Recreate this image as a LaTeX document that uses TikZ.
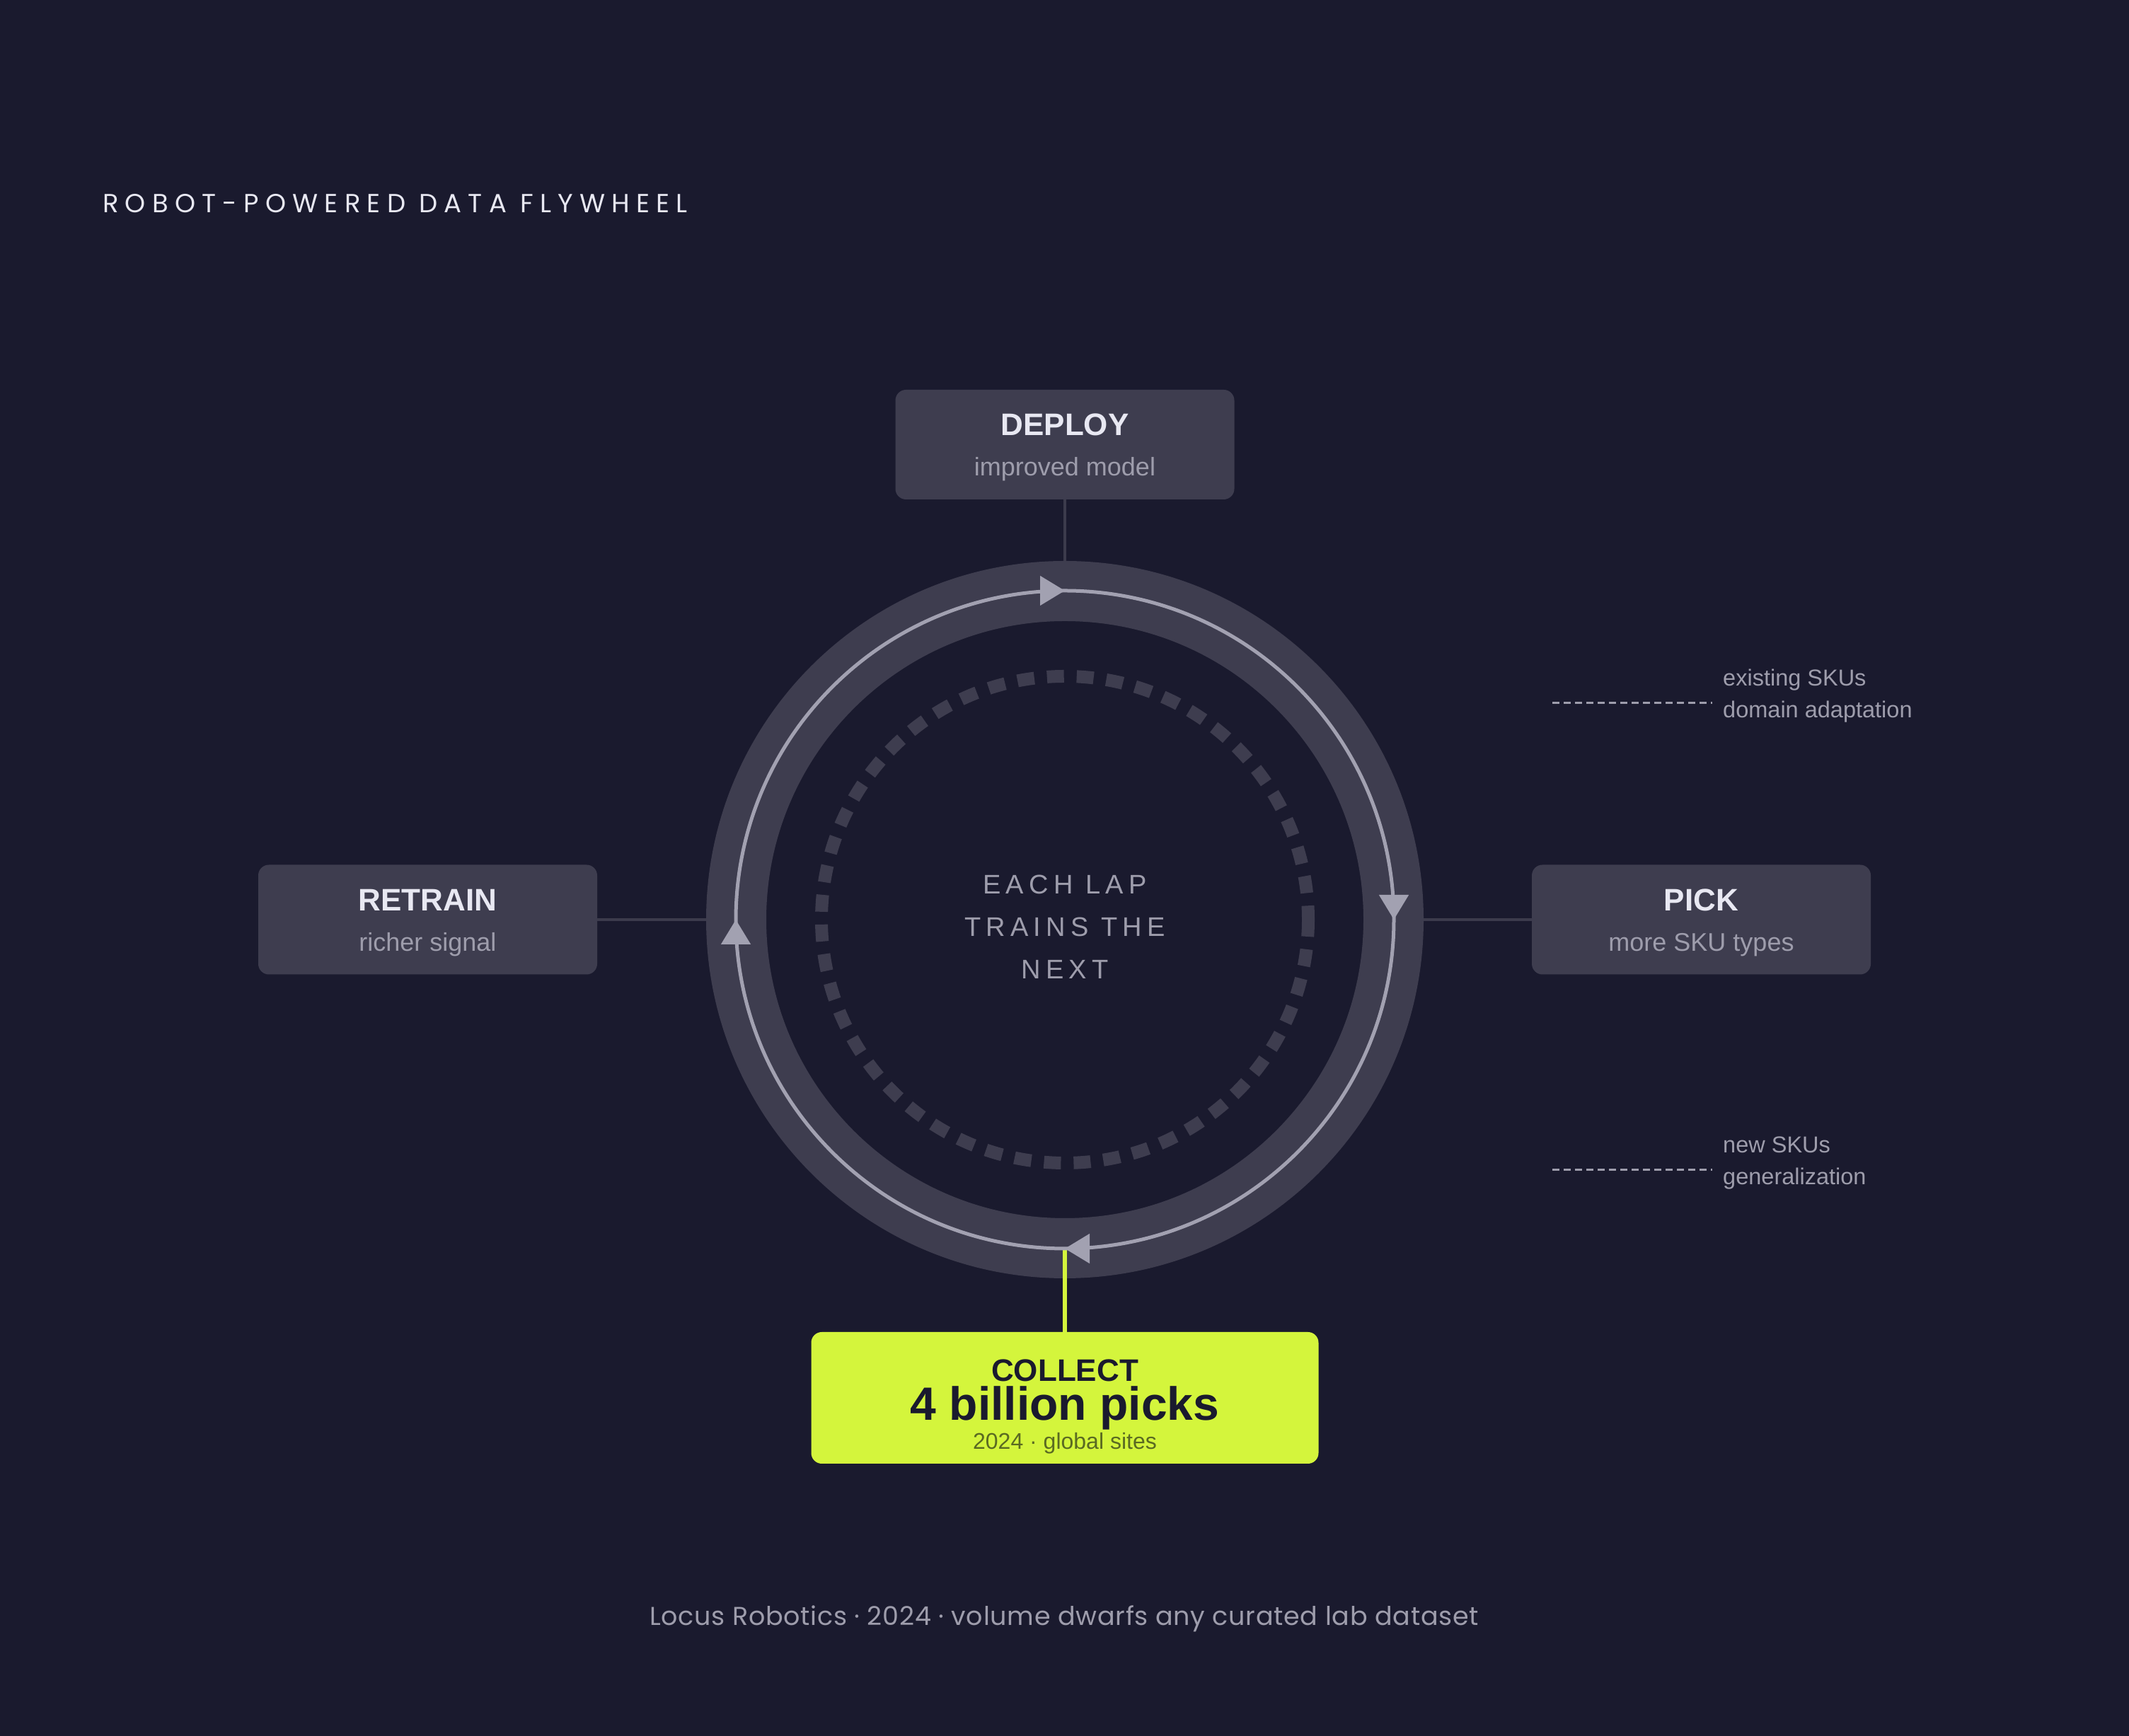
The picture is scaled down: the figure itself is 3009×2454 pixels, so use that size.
\documentclass[tikz,border=0pt]{standalone}
\usepackage{fontspec}
\setmainfont{Liberation Sans}
\newfontfamily\headfont[LetterSpace=25]{Poppins}
\newfontfamily\footfont[LetterSpace=2]{Poppins}
\newfontfamily\lapfont[LetterSpace=19]{Liberation Sans}
\usepackage{tikz}
\usetikzlibrary{arrows.meta,decorations.markings}
\definecolor{bgc}{HTML}{1A1A2E}
\definecolor{ringc}{HTML}{3E3D4F}
\definecolor{linkc}{HTML}{3C3B4C}
\definecolor{thinc}{HTML}{A2A1B1}
\definecolor{titlec}{HTML}{E8E8F2}
\definecolor{subc}{HTML}{9E9DAC}
\definecolor{limec}{HTML}{D4F53C}
\definecolor{olivec}{HTML}{5A6A22}

\begin{document}
\begin{tikzpicture}[x=1pt, y=1pt,
    >={Triangle[length=35pt, width=41pt]},
    stagebox/.style={fill=ringc, rounded corners=15pt, minimum width=479pt, minimum height=155pt, inner sep=0pt},
    stagename/.style={anchor=base, inner sep=0pt, text=titlec, font=\fontsize{44}{44}\selectfont\bfseries},
    stagesub/.style={anchor=base, inner sep=0pt, text=subc, font=\fontsize{36}{36}\selectfont},
    link/.style={draw=linkc, line width=4pt},
    note/.style={anchor=base west, inner xsep=15pt, inner ysep=0pt, text=subc, font=\fontsize{32.5}{32.5}\selectfont},
    keyline/.style={draw=subc, line width=3pt, dash pattern=on 10pt off 6pt},
    lap/.style={anchor=base, inner sep=0pt, text=subc, font={\lapfont\fontsize{38}{38}\selectfont}}
  ]
  % background and frame
  \fill[bgc] (0,0) rectangle (3009,2454);
  \useasboundingbox (0,0) rectangle (3009,2454);

  \node (title) [anchor=base west, inner sep=0pt, text=titlec, font={\headfont\fontsize{37}{37}\selectfont}]
    at (145,2153) {ROBOT-POWERED DATA FLYWHEEL};

  % wheel
  \coordinate (C) at (1505,1154);
  \path (C) ++(90:465) coordinate (rtop);
  \path (C) ++(0:465) coordinate (rright);
  \path (C) ++(-90:465) coordinate (rbot);
  \path (C) ++(180:465) coordinate (rleft);

  % stages
  \node (deploy) [stagebox] at (1505,1825.5) {};
  \node (retrain) [stagebox] at (604.5,1154) {};
  \node (pick) [stagebox] at (2404.5,1154) {};
  \node (collect) [fill=limec, rounded corners=15pt, minimum width=717pt, minimum height=186pt, inner sep=0pt]
    at (1505,478) {};

  \draw[link] (deploy.south) -- (rtop);
  \draw[link] (retrain.east) -- (rleft);
  \draw[link] (pick.west) -- (rright);

  \draw[ringc, line width=85pt] (C) circle[radius=464.5];
  \draw[ringc, line width=18pt, dash pattern=on 24pt off 18pt]
    (C) ++(0:344) arc[start angle=0, end angle=-360, radius=344];

  \draw[limec, line width=6pt] (collect.north) -- (rbot);

  \draw[thinc, line width=5pt, postaction=decorate,
    decoration={markings,
      mark=at position 0.125 with {\arrow[thinc]{>}},
      mark=at position 0.375 with {\arrow[thinc]{>}},
      mark=at position 0.625 with {\arrow[thinc]{>}},
      mark=at position 0.875 with {\arrow[thinc]{>}}}]
    (C) ++(135:465) arc[start angle=135, end angle=-225, radius=465];

  % labels
  \node (deployT) [stagename] at ([yshift=12.5pt]deploy.center) {DEPLOY};
  \node (deployS) [stagesub] at ([yshift=-44.5pt]deploy.center) {improved model};
  \node (retrainT) [stagename] at ([yshift=12.5pt]retrain.center) {RETRAIN};
  \node (retrainS) [stagesub] at ([yshift=-44.5pt]retrain.center) {richer signal};
  \node (pickT) [stagename] at ([yshift=12.5pt]pick.center) {PICK};
  \node (pickS) [stagesub] at ([yshift=-44.5pt]pick.center) {more SKU types};

  \node (collectT) [anchor=base, inner sep=0pt, text=bgc, font=\fontsize{44}{44}\selectfont\bfseries]
    at ([yshift=23pt]collect.center) {COLLECT};
  \node (collectN) [anchor=base, inner sep=0pt, text=bgc, font=\fontsize{66}{66}\selectfont\bfseries]
    at ([yshift=-32pt]collect.center) {4 billion picks};
  \node (collectS) [anchor=base, inner sep=0pt, text=olivec, font=\fontsize{32}{32}\selectfont]
    at ([yshift=-73pt]collect.center) {2024 · global sites};

  \node (lap1) [lap] at (1505,1190) {EACH LAP};
  \node (lap2) [lap] at (1505,1130) {TRAINS THE};
  \node (lap3) [lap] at (1505,1070) {NEXT};

  % key on the right
  \node (oldA) [note] at (2420,1484) {existing SKUs};
  \node (oldB) [note] at (2420,1439) {domain adaptation};
  \node (newA) [note] at (2420,824) {new SKUs};
  \node (newB) [note] at (2420,779) {generalization};
  \coordinate (oldK) at (2194,1460);
  \coordinate (newK) at (2194,800);
  \draw[keyline] (oldK) -- (oldK -| oldB.west);
  \draw[keyline] (newK) -- (newK -| newB.west);

  \node (foot) [anchor=base, inner sep=0pt, text=subc, font={\footfont\fontsize{36.5}{36.5}\selectfont}]
    at (1504,156) {Locus Robotics · 2024 · volume dwarfs any curated lab dataset};
\end{tikzpicture}
\end{document}
